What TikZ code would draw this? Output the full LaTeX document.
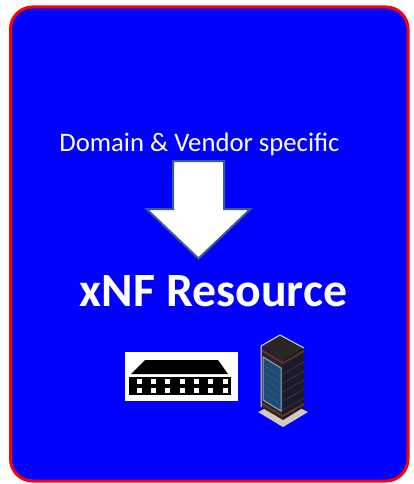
\documentclass[tikz,border=0pt]{standalone}
\usepackage{fontspec}
\setmainfont{Carlito}
\definecolor{arrowedge}{HTML}{385D8A}
\definecolor{rackblue}{HTML}{1F4A78}
\definecolor{rackstripe}{HTML}{2F5F6F}
\definecolor{rackdark}{HTML}{2A2624}
\definecolor{rackside}{HTML}{1C1A24}
\definecolor{sidestripe}{HTML}{2A3060}
\definecolor{rackrim}{HTML}{6A3526}
\definecolor{rackedge}{HTML}{D8D8D8}
\definecolor{doorrim}{HTML}{8FA8C0}
\definecolor{rackbase}{HTML}{CFCBC0}
\tikzset{
  panel/.style={draw=red,fill=blue,line width=3pt,rounded corners=22pt},
  bigarrow/.style={draw=arrowedge,fill=white,line width=2pt,miter limit=10},
  label/.style={text=white,inner sep=0pt,anchor=center}
}
\begin{document}
\begin{tikzpicture}[x=1pt,y=-1pt]
\useasboundingbox (0,0) rectangle (414,484);
\draw[panel] (10.5,7) rectangle (408,481);
\node[label,font=\fontsize{26.7}{30}\selectfont] (domain) at (199.5,144) {Domain \& Vendor specific};
\draw[bigarrow] (173,161) -- (224,161) -- (224,209) -- (250.5,209) -- (198.5,258.5) -- (146.5,209) -- (173,209) -- cycle;
\node[label,font=\fontsize{47.8}{54}\selectfont\bfseries] (xnf) at (213.5,291) {xNF Resource};
% switch
\fill[white] (125,352) rectangle (238,401);
\fill[black] (131,374) -- (145,360) -- (218,360) -- (228,374) -- cycle;
\fill[black] (129,377) rectangle (231,394.5);
\foreach \px in {139,153,167,182,196,210,225}
  \foreach \py in {381.5,390.5}
    \fill[white] (\px-2.5,\py-2.5) rectangle (\px+2.5,\py+2.5);
% rack
\fill[rackbase] (258,412) -- (283,400) -- (308,412) -- (283,427) -- cycle;
\fill[rackside] (283,360) -- (304,348) -- (304,407) -- (283,420) -- cycle;
\fill[rackdark] (261,347) -- (283,360) -- (283,420) -- (261,407) -- cycle;
\fill[rackdark] (261,346) -- (280,335) -- (304,348) -- (283,360) -- cycle;
\foreach \d in {14,23,32,41,50}
  \draw[sidestripe,line width=1pt] (283,360+\d) -- (304,348+\d);
\draw[rackrim,line width=1.5pt] (261,350) -- (283,363) -- (304,351);
\draw[rackrim,line width=2pt] (262,404) -- (283,416) -- (304,404);
\draw[rackedge,line width=1pt] (261,407) -- (261,346) -- (280,335) -- (304,348);
\fill[rackblue,draw=doorrim,line width=1pt] (263,357) -- (281,368) -- (281,411) -- (263,400) -- cycle;
\foreach \d in {8,15,22,29,36}
  \draw[rackstripe,line width=.8pt] (265,358+\d) -- (279,367+\d);
\end{tikzpicture}
\end{document}
